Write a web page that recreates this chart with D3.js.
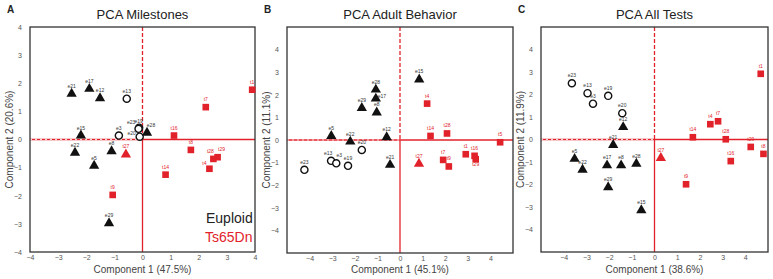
<!DOCTYPE html>
<html>
<head>
<meta charset="utf-8">
<script src="https://cdn.jsdelivr.net/npm/d3@7"></script>
<style>
  body { margin: 0; background: white; }
  svg { font-family: "Liberation Sans", Arial, sans-serif; }
</style>
</head>
<body>
<svg id="chart" width="773" height="279"></svg>
<script>
// ---- data ----
var circleIds = ["e3", "e13", "e19", "e20", "e23"];   // open circles, others triangles
var redTriangles = ["t27"];

var milestonesLabels = ["e21","e17","e12","e13","e15","e3","e23","e19","e20","e28","e22","e8","e5","e29",
                        "t1","t7","t16","t27","t8","t28","t29","t4","t14","t9"];
var milestonesX = [-2.52,-1.89,-1.51,-0.56,-2.19,-0.84,-0.12,-0.14,-0.1,0.16,-2.4,-1.1,-1.72,-1.19,
                   3.9,2.25,1.12,-0.59,1.72,2.52,2.67,2.38,0.82,-1.06];
var milestonesY = [1.63,1.8,1.47,1.45,0.14,0.14,0.42,0.38,0.1,0.24,-0.47,-0.42,-0.93,-2.98,
                   1.77,1.15,0.14,-0.53,-0.37,-0.69,-0.63,-1.04,-1.25,-1.97];

var adultLabels = ["e15","e28","e17","e29","e8","e5","e12","e22","e20","e13","e3","e19","e23","e21",
                   "t4","t14","t28","t5","t27","t7","t9","t1","t16","t29"];
var adultX = [0.85,-1.07,-1.07,-1.69,-1.03,-3.04,-0.59,-2.2,-1.69,-3.05,-2.82,-2.3,-4.23,-0.44,
              1.2,1.35,2.08,4.43,0.84,1.91,2.16,2.91,3.3,3.35];
var adultY = [2.68,2.23,1.83,1.42,1.22,0.18,0.12,-0.07,-0.44,-0.92,-1.03,-1.14,-1.32,-1.1,
              1.61,0.18,0.29,-0.1,-1.05,-0.88,-1.17,-0.63,-0.7,-0.85];

var allLabels = ["e23","e13","e3","e19","e20","e12","e21","e5","e22","e17","e8","e28","e29","e15",
                 "t1","t4","t7","t14","t28","t27","t9","t16","t29","t8"];
var allX = [-3.64,-2.95,-2.71,-2.04,-1.42,-1.38,-1.82,-3.52,-3.17,-2.09,-1.47,-0.8,-2.04,-0.58,
            4.68,2.46,2.8,1.69,3.14,0.28,1.39,3.36,4.24,4.8];
var allY = [2.5,2.06,1.59,1.94,1.17,0.55,-0.24,-0.86,-1.34,-1.15,-1.15,-1.08,-2.12,-3.14,
            2.92,0.68,0.81,0.1,0.01,-0.82,-1.99,-0.96,-0.33,-0.64];

var ticks = [-4, -3, -2, -1, 0, 1, 2, 3, 4];

// label nudges (pixels) for crowded spots
var nudgeA = {"e23": [-8, 2], "e20": [-8, 4], "e28": [4, 0], "t28": [-3, 0], "t29": [4, 0], "t4": [-5, 2]};
var nudgeB = {"e13": [-3, 0], "e3": [3, 0], "e17": [6, 5], "t29": [0, 13]};
var nudgeC = {};

var panels = [
  {letter: "A", title: "PCA Milestones", xTitle: "Component 1 (47.5%)", yTitle: "Component 2 (20.6%)",
   labels: milestonesLabels, xs: milestonesX, ys: milestonesY, domain: [-4, 4], nudge: nudgeA,
   box: {left: 30, right: 255, top: 27, bottom: 252}, legend: true},
  {letter: "B", title: "PCA Adult Behavior", xTitle: "Component 1 (45.1%)", yTitle: "Component 2 (11.1%)",
   labels: adultLabels, xs: adultX, ys: adultY, domain: [-5, 5], nudge: nudgeB,
   box: {left: 287, right: 513, top: 27, bottom: 253}, legend: false},
  {letter: "C", title: "PCA All Tests", xTitle: "Component 1 (38.6%)", yTitle: "Component 2 (11.9%)",
   labels: allLabels, xs: allX, ys: allY, domain: [-5, 5], nudge: nudgeC,
   box: {left: 541, right: 768, top: 27, bottom: 252}, legend: false}
];

var red = "#e2222a";
var svg = d3.select("#chart");

panels.forEach(function (p) {
  var b = p.box;
  var x = d3.scaleLinear().domain(p.domain).range([b.left, b.right]);
  var y = d3.scaleLinear().domain(p.domain).range([b.bottom, b.top]);
  var g = svg.append("g");

  // panel letter + title
  g.append("text").attr("x", b.left - 23).attr("y", 13)
    .style("font-size", "10px").style("font-weight", "bold").attr("fill", "#222").text(p.letter);
  g.append("text").attr("x", (b.left + b.right) / 2).attr("y", 19)
    .attr("text-anchor", "middle").style("font-size", "13px").attr("fill", "#222").text(p.title);

  // axes, tick marks hidden, labels only
  var xAxis = g.append("g").attr("transform", "translate(0," + b.bottom + ")")
    .call(d3.axisBottom(x).tickValues(ticks).tickSize(0).tickPadding(3).tickFormat(d3.format("d")));
  var yAxis = g.append("g").attr("transform", "translate(" + b.left + ",0)")
    .call(d3.axisLeft(y).tickValues(ticks).tickSize(0).tickPadding(8).tickFormat(d3.format("d")));
  [xAxis, yAxis].forEach(function (a) {
    a.select(".domain").remove();
    a.selectAll("text").style("font-size", "7px").attr("fill", "#555");
  });

  // zero lines
  g.append("line").attr("x1", b.left).attr("x2", b.right).attr("y1", y(0)).attr("y2", y(0))
    .attr("stroke", red).attr("stroke-width", 1.6);
  g.append("line").attr("x1", b.left).attr("x2", x(0)).attr("y1", y(0)).attr("y2", y(0))
    .attr("stroke", "white").attr("stroke-width", 0.8).attr("stroke-dasharray", "2,3");
  g.append("line").attr("x1", x(0)).attr("x2", x(0)).attr("y1", y(0)).attr("y2", b.bottom)
    .attr("stroke", red).attr("stroke-width", 1.3);
  g.append("line").attr("x1", x(0)).attr("x2", x(0)).attr("y1", b.top).attr("y2", y(0))
    .attr("stroke", red).attr("stroke-width", 1.3).attr("stroke-dasharray", "4,2");

  // frame
  g.append("rect").attr("x", b.left).attr("y", b.top)
    .attr("width", b.right - b.left).attr("height", b.bottom - b.top)
    .attr("fill", "none").attr("stroke", "#333").attr("stroke-width", 1.3);

  // axis titles
  g.append("text").attr("x", (b.left + b.right) / 2).attr("y", 273)
    .attr("text-anchor", "middle").style("font-size", "10px").attr("fill", "#444").text(p.xTitle);
  g.append("text")
    .attr("transform", "translate(" + (b.left - 17) + "," + ((b.top + b.bottom) / 2) + ") rotate(-90)")
    .attr("text-anchor", "middle").style("font-size", "10px").attr("fill", "#444").text(p.yTitle);

  var pts = p.labels.map(function (l, i) { return {label: l, x: p.xs[i], y: p.ys[i]}; });

  var tri = d3.symbol().type(d3.symbolTriangle).size(46);
  var sq = d3.symbol().type(d3.symbolSquare).size(44);
  var circ = d3.symbol().type(d3.symbolCircle).size(40);

  g.append("g").selectAll("path").data(pts).enter().append("path")
    .attr("transform", function (d) { return "translate(" + x(d.x) + "," + y(d.y) + ")"; })
    .attr("d", function (d) {
      if (circleIds.indexOf(d.label) >= 0) return circ();
      if (d.label[0] === "e" || redTriangles.indexOf(d.label) >= 0) return tri();
      return sq();
    })
    .attr("fill", function (d) {
      if (circleIds.indexOf(d.label) >= 0) return "white";
      return d.label[0] === "e" ? "#111" : red;
    })
    .attr("stroke", function (d) { return circleIds.indexOf(d.label) >= 0 ? "#111" : "none"; })
    .attr("stroke-width", 1.4);

  g.append("g").selectAll("text").data(pts).enter().append("text")
    .attr("x", function (d) { return x(d.x) + (p.nudge[d.label] ? p.nudge[d.label][0] : 0); })
    .attr("y", function (d) { return y(d.y) - 6 + (p.nudge[d.label] ? p.nudge[d.label][1] : 0); })
    .attr("text-anchor", "middle")
    .style("font-size", "5px")
    .attr("fill", function (d) { return d.label[0] === "e" ? "#333" : red; })
    .text(function (d) { return d.label; });

  if (p.legend) {
    g.append("text").attr("x", b.right - 49).attr("y", 223)
      .style("font-size", "14px").attr("fill", "#222").text("Euploid");
    g.append("text").attr("x", b.right - 50).attr("y", 242)
      .style("font-size", "14px").attr("fill", red).text("Ts65Dn");
  }
});
</script>
</body>
</html>
